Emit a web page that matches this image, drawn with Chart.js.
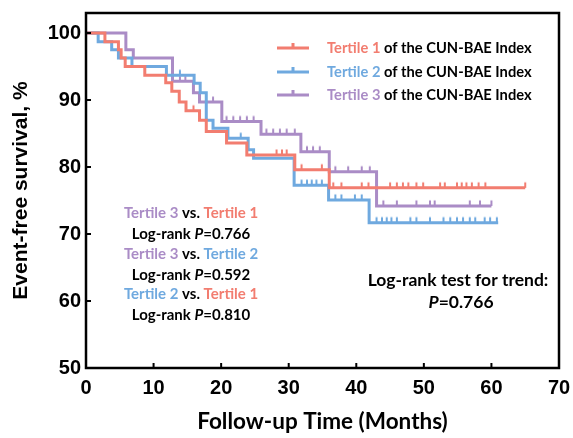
<!DOCTYPE html>
<html lang="en">

<head>
    <meta charset="UTF-8">
    <title>Event-free survival by CUN-BAE Index tertile</title>
    <script src="https://cdn.jsdelivr.net/npm/chart.js"></script>
    <style>
        body { margin: 0; background: #fff; }
        #grafico { display: block; }
    </style>
</head>

<body>
    <canvas id="grafico" width="573" height="438"></canvas>

<script>
    // dados (meses, % sobrevida)
    const tempoT1 = [0, 2.8, 4.8, 5.2, 5.8, 8.7, 11.8, 12.7, 13.8, 14.8, 16.8, 17.8, 20.8, 23.8, 30.9, 36.0, 65.0]
    const survT1 = [100, 98.7, 97.5, 96.3, 95.0, 93.7, 92.6, 91.3, 89.7, 88.4, 87.0, 85.3, 83.6, 81.8, 79.6, 76.9, 76.9]
    const censuraT1 = [15.9, 28.2, 29.0, 29.7, 31.9, 34.9, 36.6, 37.8, 40.8, 41.8, 45.0, 46.0, 46.9, 47.7, 48.9, 49.9, 52.4, 53.1, 54.9, 55.6, 56.3, 57.1, 58.1, 59.1, 65.0]

    const tempoT2 = [0, 1.8, 3.8, 4.8, 6.8, 11.9, 16.0, 16.9, 17.8, 18.8, 21.0, 24.0, 24.8, 30.8, 35.9, 41.9, 61.0]
    const survT2 = [100, 98.7, 97.5, 96.3, 95.0, 93.7, 92.5, 91.1, 87.0, 85.8, 84.3, 82.6, 81.3, 77.3, 75.1, 71.7, 71.7]
    const censuraT2 = [12.8, 13.9, 22.9, 31.9, 32.7, 33.4, 34.1, 34.9, 36.9, 37.8, 39.8, 40.8, 43.0, 43.8, 44.5, 45.2, 46.0, 48.0, 48.9, 50.9, 52.9, 53.9, 54.9, 55.8, 56.8, 57.6, 59.0, 59.8, 60.8]

    const tempoT3 = [0, 5.9, 7.0, 12.8, 15.9, 16.8, 20.1, 25.9, 31.8, 36.0, 43.0, 60.0]
    const survT3 = [100, 97.5, 96.3, 92.8, 91.1, 89.7, 86.8, 84.9, 82.3, 79.3, 74.2, 74.2]
    const censuraT3 = [13.9, 14.7, 18.8, 20.8, 21.8, 22.8, 23.8, 24.8, 26.7, 27.7, 28.7, 29.7, 30.9, 32.7, 33.6, 34.6, 36.9, 38.8, 40.8, 42.0, 44.0, 46.0, 48.9, 50.9, 51.6, 56.8, 58.3, 60.0]

    const ticksX = [0, 10, 20, 30, 40, 50, 60, 70]
    const ticksY = [50, 60, 70, 80, 90, 100]

    const nomesGrupos = ['Tertile 1', 'Tertile 2', 'Tertile 3']

    const vermelho = '#F27D70'
    const azul = '#6FA9DF'
    const roxo = '#AA8CC6'

    const fonteCalibri = 'Lato, "Open Sans", sans-serif'
    const fonteArial = '"Liberation Sans", Arial, sans-serif'

    // valor da curva num tempo qualquer (degrau)
    function valorNoTempo(tempos, valores, t) {
        let v = valores[0]
        for (let i = 0; i < tempos.length; i++) {
            if (tempos[i] <= t) v = valores[i]
        }
        return v
    }

    function pontosCurva(tempos, valores) {
        return tempos.map((t, i) => ({ x: t, y: valores[i] }))
    }

    function pontosCensura(censuras, tempos, valores) {
        return censuras.map(t => ({ x: t, y: valorNoTempo(tempos, valores, t) }))
    }

    // marquinha de censura: traço vertical para cima
    function criarMarca(cor) {
        const c = document.createElement('canvas')
        c.width = 4
        c.height = 14
        const g = c.getContext('2d')
        g.strokeStyle = cor
        g.lineWidth = 2
        g.beginPath()
        g.moveTo(2, 1.5)
        g.lineTo(2, 7)
        g.stroke()
        return c
    }

    function datasetCurva(tempos, valores, cor) {
        return {
            type: 'line',
            data: pontosCurva(tempos, valores),
            borderColor: cor,
            borderWidth: 3,
            stepped: 'before',
            pointRadius: 0,
            fill: false
        }
    }

    function datasetCensura(censuras, tempos, valores, cor) {
        return {
            type: 'scatter',
            data: pontosCensura(censuras, tempos, valores),
            pointStyle: criarMarca(cor),
            pointRadius: 5,
            showLine: false
        }
    }

    // texto com trechos de cor/estilo diferentes, centralizado
    function textoRico(ctx, trechos, cx, cy, tamanho) {
        let largura = 0
        trechos.forEach(tr => {
            ctx.font = (tr.italico ? 'italic ' : '') + 'bold ' + tamanho + 'px ' + fonteCalibri
            tr.w = ctx.measureText(tr.texto).width
            largura += tr.w
        })
        let x = cx - largura / 2
        ctx.textBaseline = 'middle'
        ctx.textAlign = 'left'
        trechos.forEach(tr => {
            ctx.font = (tr.italico ? 'italic ' : '') + 'bold ' + tamanho + 'px ' + fonteCalibri
            ctx.fillStyle = tr.cor || '#000'
            ctx.fillText(tr.texto, x, cy)
            x += tr.w
        })
    }

    const pluginMoldura = {
        id: 'moldura',
        afterDraw(chart) {
            const ctx = chart.ctx
            const area = chart.chartArea
            const escX = chart.scales.x
            const escY = chart.scales.y
            ctx.save()

            // moldura
            ctx.strokeStyle = '#000'
            ctx.lineWidth = 2.5
            ctx.strokeRect(area.left, area.top, area.right - area.left, area.bottom - area.top)

            // ticks para dentro
            ctx.lineWidth = 2
            ctx.beginPath()
            ticksX.forEach(v => {
                const px = escX.getPixelForValue(v)
                ctx.moveTo(px, area.bottom)
                ctx.lineTo(px, area.bottom - 5)
            })
            ticksY.forEach(v => {
                const py = escY.getPixelForValue(v)
                ctx.moveTo(area.left, py)
                ctx.lineTo(area.left + 5, py)
            })
            ctx.stroke()

            // legenda
            const cores = [vermelho, azul, roxo]
            const yLegenda = [48, 72, 95]
            cores.forEach((cor, i) => {
                const y = yLegenda[i]
                ctx.strokeStyle = cor
                ctx.lineWidth = 3
                ctx.beginPath()
                ctx.moveTo(277, y)
                ctx.lineTo(309, y)
                ctx.moveTo(293, y)
                ctx.lineTo(293, y - 5)
                ctx.stroke()
                ctx.font = 'bold 14.7px ' + fonteCalibri
                ctx.fillStyle = cor
                ctx.textBaseline = 'middle'
                ctx.textAlign = 'left'
                ctx.fillText(nomesGrupos[i], 327, y)
                const w = ctx.measureText(nomesGrupos[i]).width
                ctx.fillStyle = '#000'
                ctx.fillText(' of the CUN-BAE Index', 327 + w, y)
            })

            // comparações
            const tam = 15
            textoRico(ctx, [{ texto: 'Tertile 3', cor: roxo }, { texto: ' vs. ' }, { texto: 'Tertile 1', cor: vermelho }], 191, 213, tam)
            textoRico(ctx, [{ texto: 'Log-rank ' }, { texto: 'P', italico: true }, { texto: '=0.766' }], 191, 234, tam)
            textoRico(ctx, [{ texto: 'Tertile 3', cor: roxo }, { texto: ' vs. ' }, { texto: 'Tertile 2', cor: azul }], 191, 254, tam)
            textoRico(ctx, [{ texto: 'Log-rank ' }, { texto: 'P', italico: true }, { texto: '=0.592' }], 191, 275, tam)
            textoRico(ctx, [{ texto: 'Tertile 2', cor: azul }, { texto: ' vs. ' }, { texto: 'Tertile 1', cor: vermelho }], 191, 294, tam)
            textoRico(ctx, [{ texto: 'Log-rank ' }, { texto: 'P', italico: true }, { texto: '=0.810' }], 191, 315, tam)

            textoRico(ctx, [{ texto: 'Log-rank test for trend:' }], 458, 280, 17.5)
            textoRico(ctx, [{ texto: 'P', italico: true }, { texto: '=0.766' }], 461, 302, 17.5)

            ctx.restore()
        }
    }

    const ctx = document.getElementById('grafico')

    new Chart(ctx, {
        data: {
            datasets: [
                datasetCurva(tempoT1, survT1, vermelho),
                datasetCurva(tempoT2, survT2, azul),
                datasetCurva(tempoT3, survT3, roxo),
                datasetCensura(censuraT1, tempoT1, survT1, vermelho),
                datasetCensura(censuraT2, tempoT2, survT2, azul),
                datasetCensura(censuraT3, tempoT3, survT3, roxo)
            ]
        },
        options: {
            responsive: false,
            devicePixelRatio: 1,
            animation: false,
            layout: { padding: { top: 13, right: 14, left: 0, bottom: 0 } },
            plugins: {
                legend: { display: false },
                tooltip: { enabled: false }
            },
            scales: {
                x: {
                    type: 'linear',
                    min: 0,
                    max: 70,
                    afterBuildTicks: function (escala) {
                        escala.ticks = ticksX.map(v => ({ value: v }))
                    },
                    afterFit: function (escala) {
                        escala.height = 70
                        escala.paddingLeft = 0
                        escala.paddingRight = 0
                    },
                    grid: { display: false, drawTicks: false },
                    border: { display: false },
                    ticks: {
                        color: '#000',
                        padding: 8,
                        maxRotation: 0,
                        font: { family: fonteArial, size: 20, weight: 'bold' }
                    },
                    title: {
                        display: true,
                        text: 'Follow-up Time (Months)',
                        color: '#000',
                        padding: { top: 0, bottom: 3 },
                        font: { family: fonteCalibri, size: 22.5, weight: 'bold' }
                    }
                },
                y: {
                    type: 'linear',
                    min: 50,
                    max: 103,
                    afterBuildTicks: function (escala) {
                        escala.ticks = ticksY.map(v => ({ value: v }))
                    },
                    afterFit: function (escala) {
                        escala.width = 86
                        escala.paddingTop = 0
                        escala.paddingBottom = 0
                    },
                    grid: { display: false, drawTicks: false },
                    border: { display: false },
                    ticks: {
                        color: '#000',
                        padding: 5,
                        font: { family: fonteArial, size: 20, weight: 'bold' }
                    },
                    title: {
                        display: true,
                        text: 'Event-free survival, %',
                        color: '#000',
                        padding: { top: 9, bottom: 0 },
                        font: { family: fonteArial, size: 21, weight: 'bold' }
                    }
                }
            }
        },
        plugins: [pluginMoldura]
    });
</script>
</body>

</html>
